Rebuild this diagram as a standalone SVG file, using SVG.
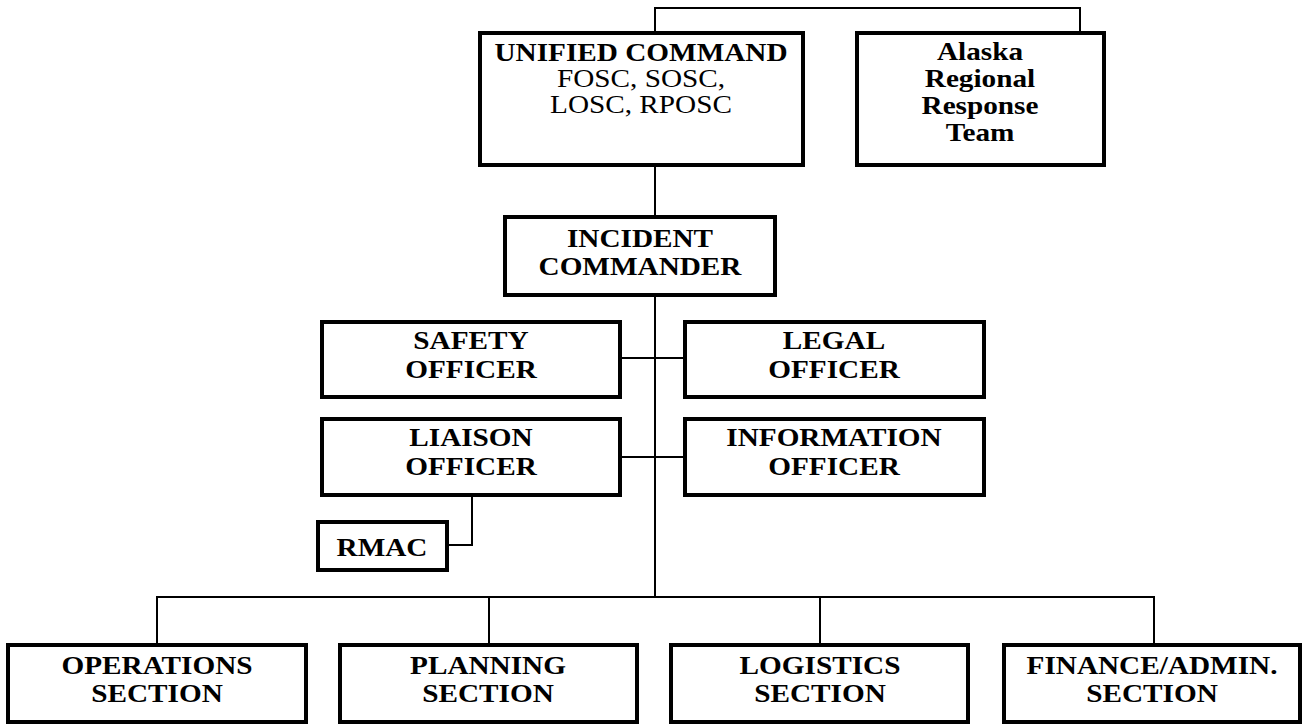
<svg xmlns="http://www.w3.org/2000/svg" width="1304" height="725" viewBox="0 0 1304 725">
<style>
.box{fill:#fff;stroke:#000;stroke-width:4}
.c{fill:none;stroke:#000;stroke-width:2}
.t{font-family:"Liberation Serif","Times New Roman",serif;font-weight:bold;font-size:25px;text-anchor:middle;fill:#000}
.r{font-weight:normal}
</style>
<rect width="1304" height="725" fill="#fff"/>
<g id="connectors">
<path class="c" d="M655 33V8H1080V33"/>
<path class="c" d="M655 165V217"/>
<path class="c" d="M655 295V597"/>
<path class="c" d="M620 358H685M620 457H685"/>
<path class="c" d="M472 495V545H447"/>
<path class="c" d="M157 645V597H1154V645M489 597V645M820 597V645"/>
</g>
<g id="unified-command">
<rect class="box" x="480" y="33" width="323" height="132"/>
<text class="t" transform="translate(641 61) scale(1.17 1)">UNIFIED COMMAND</text>
<text class="t r" transform="translate(641 87) scale(1.17 1)">FOSC, SOSC,</text>
<text class="t r" transform="translate(641 113) scale(1.17 1)">LOSC, RPOSC</text>
</g>
<g id="alaska-rrt">
<rect class="box" x="857" y="33" width="247" height="132"/>
<text class="t" transform="translate(980 60) scale(1.17 1)">Alaska</text>
<text class="t" transform="translate(980 87) scale(1.17 1)">Regional</text>
<text class="t" transform="translate(980 114) scale(1.17 1)">Response</text>
<text class="t" transform="translate(980 141) scale(1.17 1)">Team</text>
</g>
<g id="incident-commander">
<rect class="box" x="505" y="217" width="270" height="78"/>
<text class="t" transform="translate(640 247) scale(1.17 1)">INCIDENT</text>
<text class="t" transform="translate(640 275) scale(1.17 1)">COMMANDER</text>
</g>
<g id="safety-officer">
<rect class="box" x="322" y="322" width="298" height="75"/>
<text class="t" transform="translate(471 349) scale(1.17 1)">SAFETY</text>
<text class="t" transform="translate(471 378) scale(1.17 1)">OFFICER</text>
</g>
<g id="legal-officer">
<rect class="box" x="685" y="322" width="299" height="75"/>
<text class="t" transform="translate(834 349) scale(1.17 1)">LEGAL</text>
<text class="t" transform="translate(834 378) scale(1.17 1)">OFFICER</text>
</g>
<g id="liaison-officer">
<rect class="box" x="322" y="419" width="298" height="76"/>
<text class="t" transform="translate(471 446) scale(1.17 1)">LIAISON</text>
<text class="t" transform="translate(471 475) scale(1.17 1)">OFFICER</text>
</g>
<g id="information-officer">
<rect class="box" x="685" y="419" width="299" height="76"/>
<text class="t" transform="translate(834 446) scale(1.17 1)">INFORMATION</text>
<text class="t" transform="translate(834 475) scale(1.17 1)">OFFICER</text>
</g>
<g id="rmac">
<rect class="box" x="318" y="522" width="129" height="48"/>
<text class="t" transform="translate(382 556) scale(1.17 1)">RMAC</text>
</g>
<g id="operations">
<rect class="box" x="8" y="645" width="298" height="77"/>
<text class="t" transform="translate(157 674) scale(1.17 1)">OPERATIONS</text>
<text class="t" transform="translate(157 702) scale(1.17 1)">SECTION</text>
</g>
<g id="planning">
<rect class="box" x="340" y="645" width="297" height="77"/>
<text class="t" transform="translate(488 674) scale(1.17 1)">PLANNING</text>
<text class="t" transform="translate(488 702) scale(1.17 1)">SECTION</text>
</g>
<g id="logistics">
<rect class="box" x="671" y="645" width="297" height="77"/>
<text class="t" transform="translate(820 674) scale(1.17 1)">LOGISTICS</text>
<text class="t" transform="translate(820 702) scale(1.17 1)">SECTION</text>
</g>
<g id="finance">
<rect class="box" x="1004" y="645" width="296" height="77"/>
<text class="t" transform="translate(1152 674) scale(1.17 1)">FINANCE/ADMIN.</text>
<text class="t" transform="translate(1152 702) scale(1.17 1)">SECTION</text>
</g>
</svg>
